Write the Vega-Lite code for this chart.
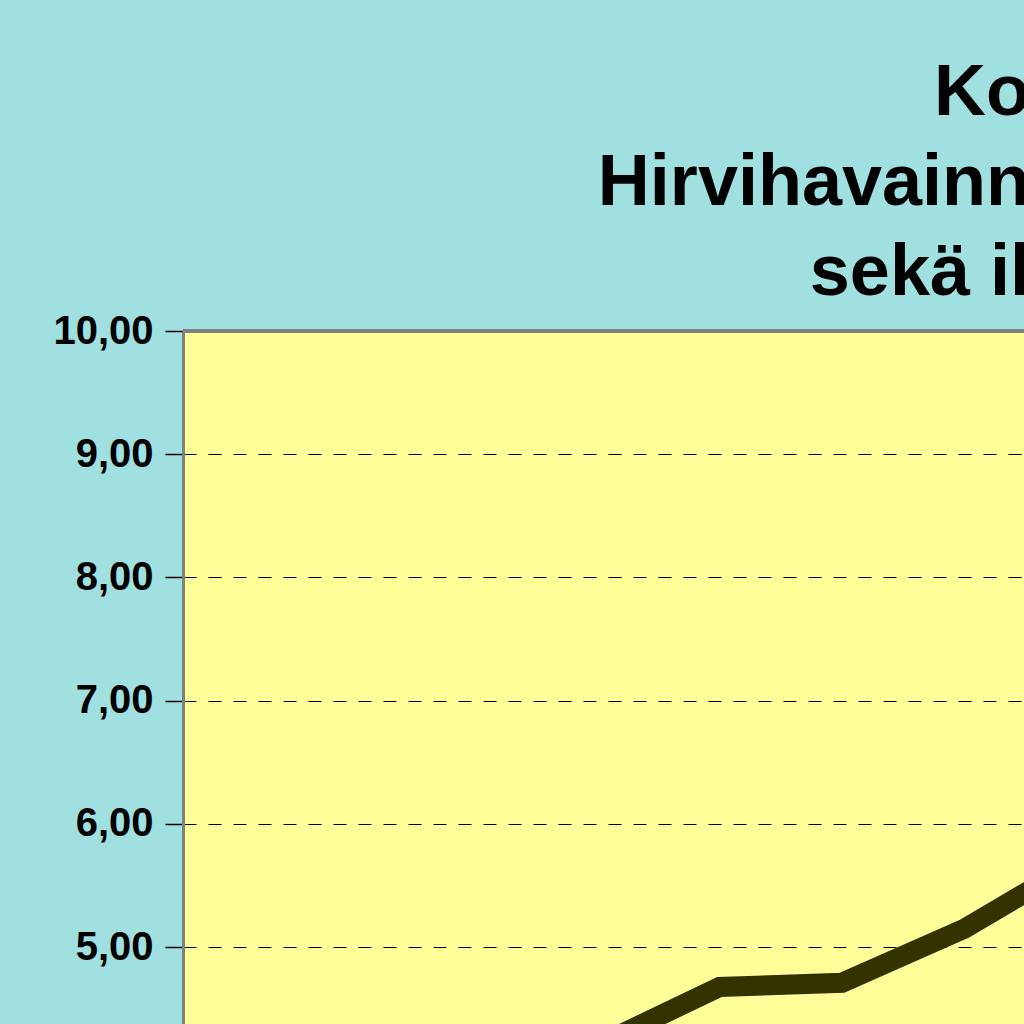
{
  "$schema": "https://vega.github.io/schema/vega-lite/v6.json",
  "width": 841,
  "height": 693,
  "autosize": {"type": "none"},
  "padding": {"left": 183, "top": 331, "right": 0, "bottom": 0},
  "background": "#A0E0E0",
  "title": {
    "text": ["Ko", "Hirvihavainn", "sekä il"],
    "anchor": "end",
    "align": "right",
    "frame": "group",
    "font": "Liberation Sans",
    "fontSize": 72,
    "fontWeight": "bold",
    "color": "#000000",
    "lineHeight": 90,
    "baseline": "alphabetic",
    "offset": 34,
    "dx": 6,
    "dy": 90
  },
  "config": {
    "view": {"fill": "#FFFF99", "stroke": null},
    "font": "Liberation Sans"
  },
  "data": {
    "values": [
      {"jakso": 1, "arvo": 4.2},
      {"jakso": 2, "arvo": 4.675},
      {"jakso": 3, "arvo": 4.71},
      {"jakso": 4, "arvo": 5.15},
      {"jakso": 5, "arvo": 5.735}
    ]
  },
  "layer": [
    {
      "mark": {"type": "rule", "color": "#808080", "strokeWidth": 3},
      "encoding": {"y": {"datum": 10, "type": "quantitative"}}
    },
    {
      "mark": {"type": "line", "color": "#333300", "strokeWidth": 20, "clip": true, "strokeJoin": "miter", "strokeCap": "butt"},
      "encoding": {
        "x": {"field": "jakso", "type": "quantitative", "scale": {"domain": [-2.38, 4.485], "nice": false, "zero": false}, "axis": null},
        "y": {
          "field": "arvo",
          "type": "quantitative",
          "scale": {"domain": [4.375, 10], "nice": false, "zero": false},
          "axis": {
            "title": null,
            "values": [5, 6, 7, 8, 9, 10],
            "labelExpr": "replace(format(datum.value, '.2f'), '.', ',')",
            "labelFont": "Liberation Sans",
            "labelFontSize": 40,
            "labelFontWeight": "bold",
            "labelColor": "#000000",
            "labelPadding": 12,
            "tickSize": 18,
            "tickColor": "#000000",
            "tickWidth": 1.5,
            "domainColor": "#808080",
            "domainWidth": 3,
            "grid": true,
            "gridColor": "#000000",
            "gridWidth": 1,
            "gridDash": [13, 12]
          }
        }
      }
    }
  ]
}
